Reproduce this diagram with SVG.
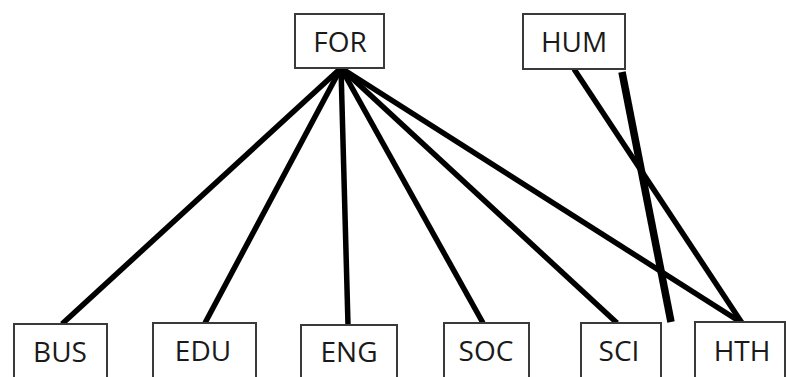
<svg xmlns="http://www.w3.org/2000/svg" width="786" height="377" viewBox="0 0 786 377">
<style>
.box{fill:#fff;stroke:#3a3a3a;stroke-width:2}
.lbl{font-family:"Open Sans","Liberation Sans",sans-serif;font-size:28px;fill:#1a1a1a;text-anchor:middle}
.c{stroke:#000;stroke-width:5.5;stroke-linecap:butt;fill:none}
.thick{stroke:#000;stroke-width:7.5;fill:none}
</style>
<rect width="786" height="377" fill="#fff"/>
<g id="connectors">
<line class="c" x1="341" y1="68" x2="62" y2="324"/>
<line class="c" x1="341" y1="68" x2="205" y2="323"/>
<line class="c" x1="341" y1="68" x2="348" y2="325"/>
<line class="c" x1="341" y1="68" x2="483" y2="323"/>
<line class="c" x1="341" y1="68" x2="617" y2="323"/>
<line class="c" x1="341" y1="68" x2="742" y2="323"/>
<line class="c" x1="574" y1="69" x2="742" y2="323"/>
<line class="thick" x1="622" y1="72" x2="671" y2="322"/>
</g>
<g id="FOR"><rect class="box" x="295" y="14" width="89" height="54"/><text class="lbl" x="340" y="52">FOR</text></g>
<g id="HUM"><rect class="box" x="523" y="14" width="102" height="55"/><text class="lbl" x="574" y="52">HUM</text></g>
<g id="BUS"><rect class="box" x="14" y="324" width="93" height="60"/><text class="lbl" x="60" y="362">BUS</text></g>
<g id="EDU"><rect class="box" x="153" y="323" width="103" height="60"/><text class="lbl" x="203" y="361">EDU</text></g>
<g id="ENG"><rect class="box" x="301" y="325" width="96" height="60"/><text class="lbl" x="349" y="362">ENG</text></g>
<g id="SOC"><rect class="box" x="444" y="323" width="85" height="60"/><text class="lbl" x="486" y="361">SOC</text></g>
<g id="SCI"><rect class="box" x="581" y="323" width="80" height="60"/><text class="lbl" x="619" y="361">SCI</text></g>
<g id="HTH"><rect class="box" x="695" y="322" width="90" height="60"/><text class="lbl" x="742" y="361">HTH</text></g>
</svg>
